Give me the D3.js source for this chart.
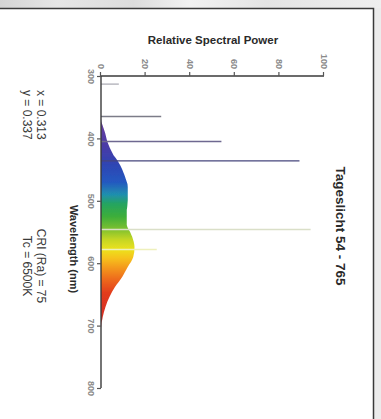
<!DOCTYPE html>
<html>
<head>
<meta charset="utf-8">
<script src="https://cdn.jsdelivr.net/npm/d3@7"></script>
<style>
  html, body { margin: 0; padding: 0; background: #ffffff; }
  svg { display: block; font-family: "Liberation Sans", Arial, sans-serif; }
</style>
</head>
<body>
<svg id="chart" width="381" height="419"></svg>
<script>
// ---- data ----
const wavelengthTicks = [300, 400, 500, 600, 700, 800];
const powerTicks = [0, 20, 40, 60, 80, 100];

// broad phosphor continuum
const specWavelengths = [355, 368, 387, 407, 423, 439, 459, 478, 499, 520, 536, 558, 574, 590, 606, 622, 638, 654, 670, 686, 704, 720];
const specPower       = [0,   0,   1.5, 3,   5,   8,   10.5, 12,  12,  11.5, 11.5, 14, 15,  14.5, 12,  9.5, 6.3, 3.8, 2.0, 0.8, 0,   0];

// mercury emission lines
const lineWavelengths = [313, 365, 405, 436, 546, 578];
const linePowers      = [8,   27,  54,  89,  94,  25];
const lineColors      = ["#b4b4bc", "#7c7c88", "#6e6890", "#46467c", "#dadfc8", "#eef0bc"];

// spectral colour stops for the fill
const gradWavelengths = [370, 410, 440, 470, 490, 505, 525, 545, 562, 578, 592, 606, 625, 648, 700];
const gradColors = ["#6b3fa0", "#4c3aa6", "#3044b2", "#2458c0", "#1f8fae", "#25a460", "#3cae3a", "#7cc030", "#c4d624", "#ece21e", "#f6c21c", "#f49c1e", "#ee6c1e", "#e23c1e", "#d42a26"];

const title = "Tageslicht 54 - 765";
const yTitle = "Relative Spectral Power";
const xTitle = "Wavelength (nm)";
const infoLeft = ["x = 0.313", "y = 0.337"];
const infoRight = ["CRI (Ra) = 75", "Tc = 6500K"];

// ---- drawing ----
const svg = d3.select("#chart");
const W = 381, H = 419;

// frame
const defs = svg.append("defs");
const topGrad = defs.append("linearGradient").attr("id", "topbar")
  .attr("x1", 0).attr("x2", 1).attr("y1", 0).attr("y2", 0);
[[0, "#d4d4d4"], [0.15, "#e6e6e6"], [0.35, "#dcdcdc"], [0.5, "#f2f2f2"], [0.7, "#e4e4e4"], [1, "#efefef"]]
  .forEach(([o, c]) => topGrad.append("stop").attr("offset", o).attr("stop-color", c));
svg.append("rect").attr("x", 0).attr("y", 0).attr("width", W).attr("height", 8).attr("fill", "url(#topbar)");
svg.append("rect").attr("x", 374).attr("y", 8).attr("width", W - 374).attr("height", H - 8).attr("fill", "#ececec");
svg.append("path").attr("d", `M0,8.5H373.5V${H}`).attr("fill", "none").attr("stroke", "#3a3a3a").attr("stroke-width", 1.5);

// rotated plotting group: local (u,v) -> screen (381 - v, u)
const g = svg.append("g").attr("transform", `translate(${W},0) rotate(90)`);

const x = d3.scaleLinear().domain([300, 800]).range([76, 388]);
const y = d3.scaleLinear().domain([0, 100]).range([280, 57]);

// gradient for the continuum (in local user space)
const sg = defs.append("linearGradient").attr("id", "spec")
  .attr("gradientUnits", "userSpaceOnUse")
  .attr("x1", x(gradWavelengths[0])).attr("x2", x(gradWavelengths[gradWavelengths.length - 1]))
  .attr("y1", 0).attr("y2", 0);
const gx0 = gradWavelengths[0], gx1 = gradWavelengths[gradWavelengths.length - 1];
gradWavelengths.forEach((w, i) => {
  sg.append("stop").attr("offset", (w - gx0) / (gx1 - gx0)).attr("stop-color", gradColors[i]);
});
const blur = defs.append("filter").attr("id", "soft").attr("x", "-10%").attr("y", "-10%").attr("width", "120%").attr("height", "120%");
blur.append("feGaussianBlur").attr("stdDeviation", 0.7);

const specData = specWavelengths.map((w, i) => ({ w, p: specPower[i] }));
const area = d3.area().x(d => x(d.w)).y0(y(0)).y1(d => y(d.p)).curve(d3.curveMonotoneX);
g.append("path").datum(specData).attr("d", area).attr("fill", "url(#spec)").attr("filter", "url(#soft)");

// emission lines
const lineData = lineWavelengths.map((w, i) => ({ w, p: linePowers[i], c: lineColors[i] }));
g.selectAll("line.em").data(lineData).join("line")
  .attr("class", "em")
  .attr("x1", d => x(d.w)).attr("x2", d => x(d.w))
  .attr("y1", y(0)).attr("y2", d => y(d.p))
  .attr("stroke", d => d.c).attr("stroke-width", 1.4);

// axes
const xAxis = g.append("g").attr("transform", `translate(0,${y(0)})`)
  .call(d3.axisBottom(x).tickValues(wavelengthTicks).tickSize(4).tickSizeOuter(0).tickPadding(3));
const yAxis = g.append("g").attr("transform", `translate(${x(300)},0)`)
  .call(d3.axisLeft(y).tickValues(powerTicks).tickSize(4).tickSizeOuter(0).tickPadding(3));
[xAxis, yAxis].forEach(a => {
  a.select(".domain").attr("stroke", "#3a3a3a").attr("stroke-width", 1.4);
  a.selectAll(".tick line").attr("stroke", "#555").attr("stroke-width", 1.2);
  a.selectAll(".tick text").attr("fill", "#8a8a8a").attr("font-size", 9).attr("font-weight", "bold")
    .attr("font-family", "'Liberation Sans', Arial, sans-serif");
});
xAxis.select(".domain").attr("d", `M${x(300)},0H${x(800)}`);
yAxis.select(".domain").attr("d", `M0,${y(0)}V${y(100)}`);

// texts
svg.append("text").attr("x", 213).attr("y", 44).attr("text-anchor", "middle")
  .attr("font-size", 11.5).attr("font-weight", "bold").attr("fill", "#2a2a2a").text(yTitle);

function rtext(sx, sy, anchor, size, weight, fill, t) {
  svg.append("text").attr("transform", `translate(${sx},${sy}) rotate(90)`)
    .attr("text-anchor", anchor).attr("font-size", size).attr("font-weight", weight)
    .attr("fill", fill).text(t);
}
rtext(70, 249, "middle", 11, "bold", "#2a2a2a", xTitle);
rtext(336, 226, "middle", 13.5, "bold", "#2a2a2a", title);
rtext(37, 90, "start", 12, "normal", "#3a3a3a", infoLeft[0]);
rtext(23, 90, "start", 12, "normal", "#3a3a3a", infoLeft[1]);
rtext(37, 266, "middle", 12, "normal", "#3a3a3a", infoRight[0]);
rtext(23, 266, "middle", 12, "normal", "#3a3a3a", infoRight[1]);
</script>
</body>
</html>
